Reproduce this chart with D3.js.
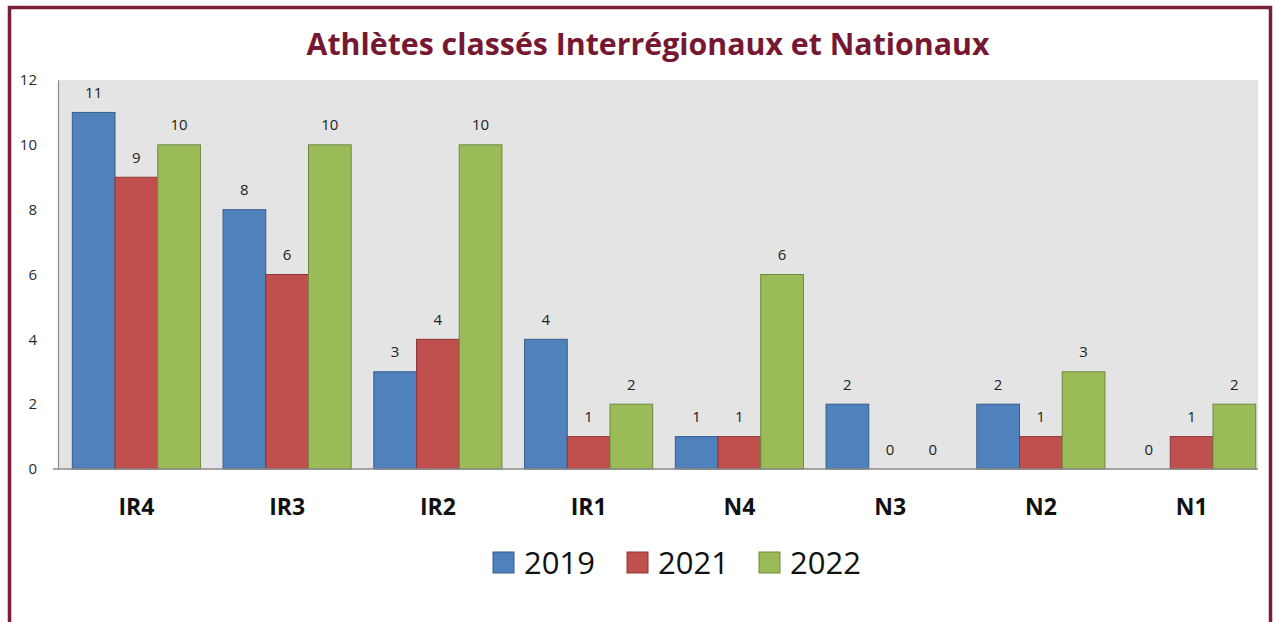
<!DOCTYPE html>
<html>
<head>
<meta charset="utf-8">
<script src="https://cdn.jsdelivr.net/npm/d3@7"></script>
<style>
  body { margin: 0; background: #fff; }
  svg { display: block; }
</style>
</head>
<body>
<div id="chart"></div>
<script>
// categories and series
const categories = ['IR4', 'IR3', 'IR2', 'IR1', 'N4', 'N3', 'N2', 'N1'];
const years = ['2019', '2021', '2022'];
const values2019 = [11, 8, 3, 4, 1, 2, 2, 0];
const values2021 = [9, 6, 4, 1, 1, 0, 1, 1];
const values2022 = [10, 10, 10, 2, 6, 0, 3, 2];
const yTicks = [0, 2, 4, 6, 8, 10, 12];

const series = [values2019, values2021, values2022];

const width = 1274,
  height = 622;

const fill = d3.scaleOrdinal().domain(years).range(['#4f81bd', '#c0504d', '#9bbb59']);
const edge = d3.scaleOrdinal().domain(years).range(['#385d8a', '#8c3836', '#71893f']);

const font = '"Open Sans", "Noto Sans", sans-serif';

const plot = {left: 58, right: 1258, top: 80, bottom: 469};

// x0: one band per category, x1: one band per year inside it
const x0 = d3.scaleBand()
  .domain(categories)
  .range([61, 1267])
  .paddingInner(0.15)
  .paddingOuter(0.075);

const x1 = d3.scaleBand()
  .domain(years)
  .range([0, x0.bandwidth()]);

const y = d3.scaleLinear()
  .domain([0, 12])
  .range([plot.bottom, plot.top]);

function chart() {
  const svg = d3.select('#chart').append('svg')
    .attr('width', width)
    .attr('height', height)
    .style('font-family', font);

  // frame
  svg.append('rect')
    .attr('x', 9.5)
    .attr('y', 7.5)
    .attr('width', 1261)
    .attr('height', 620)
    .attr('fill', '#fff')
    .attr('stroke', '#7a1f36')
    .attr('stroke-width', 3.5);

  // title
  svg.append('text')
    .attr('x', 648)
    .attr('y', 55)
    .attr('text-anchor', 'middle')
    .attr('fill', '#761831')
    .style('font-size', '30px')
    .style('font-weight', 700)
    .attr('textLength', 683)
    .attr('lengthAdjust', 'spacingAndGlyphs')
    .text('Athlètes classés Interrégionaux et Nationaux');

  // plot background
  svg.append('rect')
    .attr('x', plot.left)
    .attr('y', plot.top)
    .attr('width', plot.right - plot.left)
    .attr('height', plot.bottom - plot.top)
    .attr('fill', '#e4e4e4');

  // y axis
  const yAxis = svg.append('g')
    .attr('transform', `translate(${plot.left},0)`)
    .call(d3.axisLeft(y).tickValues(yTicks).tickSize(0).tickSizeOuter(0).tickPadding(21));
  yAxis.select('.domain').attr('stroke', '#8a8a8a').attr('stroke-width', 1.2);
  yAxis.selectAll('text')
    .attr('fill', '#2a2a2a')
    .style('font-size', '15px')
    .style('font-family', font);

  // x axis (labels only, baseline drawn below)
  const xAxis = svg.append('g')
    .attr('transform', `translate(0,${plot.bottom})`)
    .call(d3.axisBottom(x0).tickSize(0).tickPadding(30));
  xAxis.select('.domain').remove();
  xAxis.selectAll('text')
    .attr('fill', '#111')
    .style('font-size', '23px')
    .style('font-weight', 700)
    .style('font-family', font);

  // bars
  const groups = svg.append('g')
    .selectAll('g')
    .data(categories)
    .join('g')
      .attr('transform', c => `translate(${x0(c)},0)`);

  const cells = groups.selectAll('g')
    .data((c, i) => years.map((yr, j) => ({year: yr, value: series[j][i]})))
    .join('g');

  cells.filter(d => d.value > 0).append('rect')
    .attr('x', d => x1(d.year))
    .attr('y', d => y(d.value))
    .attr('width', x1.bandwidth())
    .attr('height', d => y(0) - y(d.value))
    .attr('fill', d => fill(d.year))
    .attr('stroke', d => edge(d.year))
    .attr('stroke-width', 1);

  cells.append('text')
    .attr('x', d => x1(d.year) + x1.bandwidth() / 2)
    .attr('y', d => y(d.value) - 14.5)
    .attr('text-anchor', 'middle')
    .attr('fill', '#222')
    .style('font-size', '15px')
    .text(d => d.value);

  // baseline
  svg.append('line')
    .attr('x1', plot.left - 5)
    .attr('x2', plot.right)
    .attr('y1', y(0))
    .attr('y2', y(0))
    .attr('stroke', '#8a8a8a')
    .attr('stroke-width', 1.5);

  // legend
  const legendX = [493, 627, 759];
  const legend = svg.append('g')
    .selectAll('g')
    .data(years)
    .join('g')
      .attr('transform', (d, i) => `translate(${legendX[i]},552)`);

  legend.append('rect')
    .attr('width', 21)
    .attr('height', 21)
    .attr('fill', d => fill(d))
    .attr('stroke', d => edge(d))
    .attr('stroke-width', 1);

  legend.append('text')
    .attr('x', 31)
    .attr('y', 22)
    .attr('fill', '#111')
    .style('font-size', '31px')
    .text(d => d);

  return svg.node();
}

chart();
</script>
</body>
</html>
